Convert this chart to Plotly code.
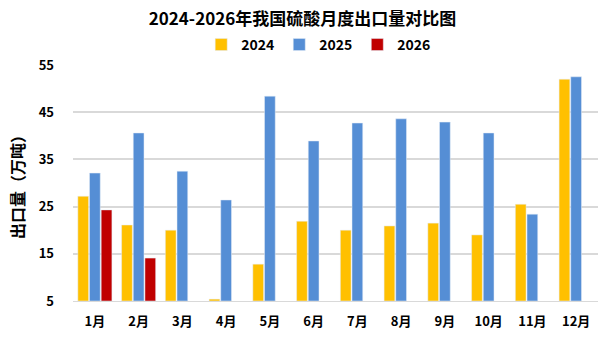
import plotly.graph_objects as go

months = ["1月", "2月", "3月", "4月", "5月", "6月", "7月", "8月", "9月", "10月", "11月", "12月"]
v2024 = [27.2, 21.1, 20.0, 5.4, 12.8, 21.9, 20.0, 20.9, 21.5, 19.0, 25.5, 52.0]
v2025 = [32.1, 40.6, 32.5, 26.4, 48.4, 38.9, 42.7, 43.6, 42.9, 40.6, 23.4, 52.5]
v2026 = [24.3, 14.1]
y_ticks = [5, 15, 25, 35, 45, 55]

FONT = "Noto Sans CJK SC"

fig = go.Figure()
base = 5
fig.add_trace(go.Bar(name="2024", x=months, y=[v - base for v in v2024], base=base, marker_color="#FFC000"))
fig.add_trace(go.Bar(name="2025", x=months, y=[v - base for v in v2025], base=base, marker_color="#558ED5"))
fig.add_trace(go.Bar(name="2026", x=months[:len(v2026)], y=[v - base for v in v2026], base=base, marker_color="#C00000"))

fig.update_layout(
    width=605, height=339,
    margin=dict(l=73, r=7, t=65, b=38),
    paper_bgcolor="white", plot_bgcolor="white",
    barmode="group", bargap=0.2, bargroupgap=0.08,
    title=dict(text="<b>2024-2026年我国硫酸月度出口量对比图</b>", x=0.5, xanchor="center",
               y=0.944, yanchor="middle", font=dict(family=FONT, size=17, color="black")),
    legend=dict(orientation="h", x=0.468, xanchor="center", y=1.085, yanchor="middle",
                font=dict(family=FONT, size=14, color="black", weight="bold"),
                itemwidth=30, traceorder="normal"),
    font=dict(family=FONT, color="black"),
)
fig.update_xaxes(
    categoryorder="array", categoryarray=months,
    tickfont=dict(family=FONT, size=13, color="black", weight="bold"),
    showline=True, linecolor="#D9D9D9", linewidth=1, ticks="", ticklabelstandoff=8,
)
fig.update_yaxes(
    range=[5, 55], tickvals=y_ticks, ticktext=[str(t) for t in y_ticks],
    tickfont=dict(family=FONT, size=13, color="black", weight="bold"),
    showgrid=True, gridcolor="#D9D9D9", gridwidth=1.5, zeroline=False,
    ticklabelstandoff=18,
    title=dict(text="<b>出口量（万吨）</b>", font=dict(family=FONT, size=16, color="black"), standoff=10),
)

fig.write_html("out.html")
